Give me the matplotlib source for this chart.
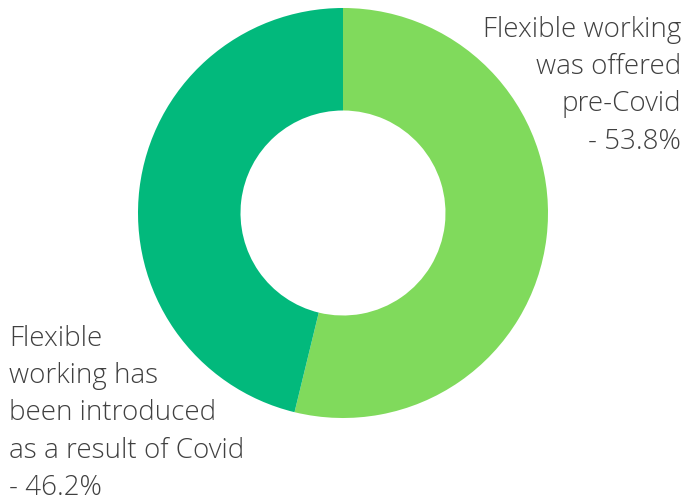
import matplotlib.pyplot as plt

labels = ["Flexible working\nwas offered\npre-Covid\n- 53.8%",
          "Flexible\nworking has\nbeen introduced\nas a result of Covid\n- 46.2%"]
values = [53.8, 46.2]
colors = ["#80DA5C", "#02B97C"]

W, H = 685, 501
cx, cy, r = 343, 213, 205  # donut centre / radius in pixels

fig = plt.figure(figsize=(W / 100, H / 100), dpi=100)
ax = fig.add_axes([0, 0, 1, 1])

ax.pie(values, colors=colors, startangle=90, counterclock=False, radius=1,
       wedgeprops=dict(width=0.5, linewidth=0))

# pie() resets the limits, so set them afterwards
ax.set_xlim(-cx / r, (W - cx) / r)
ax.set_ylim(-(H - cy) / r, cy / r)
ax.set_aspect("equal")
ax.axis("off")


def px(x, y):
    return (x - cx) / r, (cy - y) / r


font = dict(family="Open Sans", fontweight="light", fontsize=20,
            color="#404040", linespacing=1.44)
ax.text(*px(681, 16), labels[0], ha="right", va="top", multialignment="right", **font)
ax.text(*px(9, 325), labels[1], ha="left", va="top", multialignment="left", **font)

fig.savefig("out.png", dpi=100)
